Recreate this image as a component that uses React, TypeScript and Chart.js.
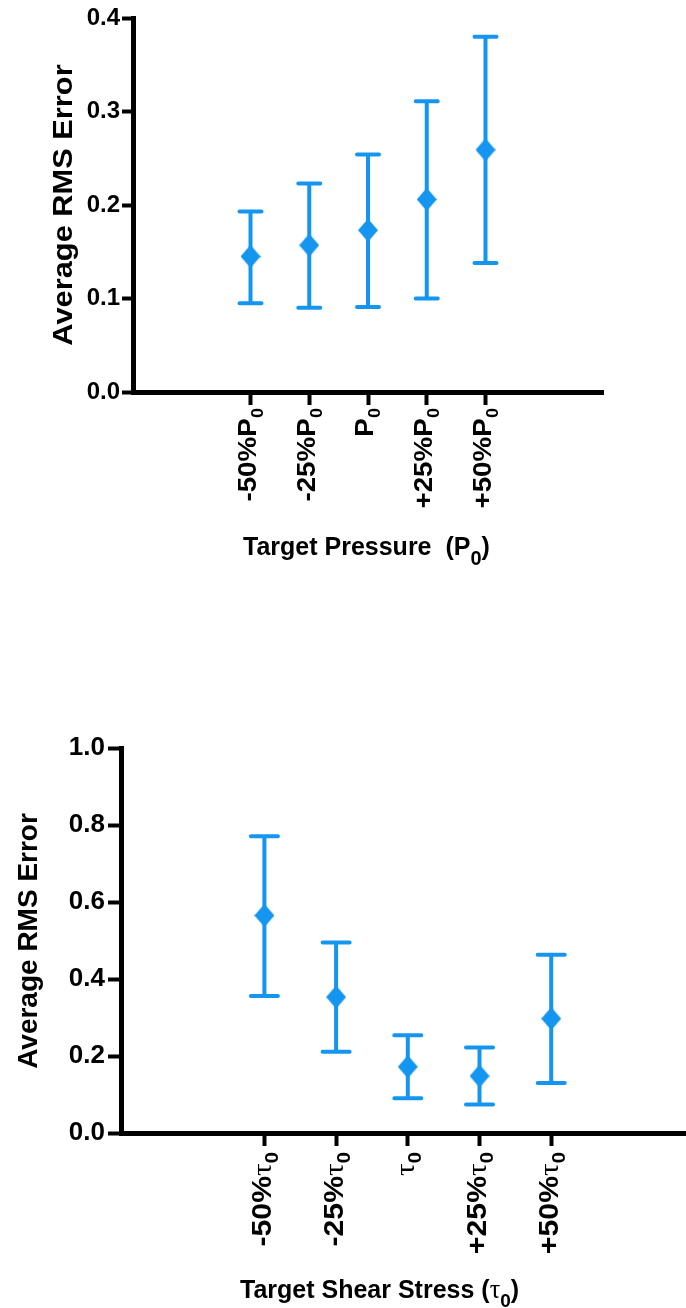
import React, { useEffect, useRef } from 'react';
import { Chart, registerables } from 'chart.js';

Chart.register(...registerables);

const BLUE = '#1496F0';
const SANS = '"Liberation Sans", Arial, sans-serif';
const SERIF = '"Liberation Serif", "Times New Roman", serif';

// ---------- data ----------
const categoryPositions = [2, 3, 4, 5, 6];
const subscriptText = '0';
const yAxisTitle = 'Average RMS Error';

const pressurePrefixes = ['-50%', '-25%', '', '+25%', '+50%'];
const pressureSymbol = 'P';
const pressureMean = [0.145, 0.157, 0.173, 0.206, 0.259];
const pressureUpper = [0.193, 0.223, 0.254, 0.311, 0.38];
const pressureLower = [0.095, 0.09, 0.091, 0.1, 0.138];
const pressureYTicks = [0, 0.1, 0.2, 0.3, 0.4];
const pressureXTitle = 'Target Pressure  (';

const shearPrefixes = ['-50%', '-25%', '', '+25%', '+50%'];
const shearSymbol = 'τ';
const shearMean = [0.565, 0.353, 0.172, 0.148, 0.297];
const shearUpper = [0.771, 0.495, 0.254, 0.222, 0.463];
const shearLower = [0.356, 0.211, 0.09, 0.074, 0.13];
const shearYTicks = [0, 0.2, 0.4, 0.6, 0.8, 1.0];
const shearXTitle = 'Target Shear Stress (';

type Seg = { text: string; font: string; dy?: number };

function measureSegs(ctx: CanvasRenderingContext2D, segs: Seg[]) {
  let w = 0;
  for (const s of segs) {
    ctx.font = s.font;
    w += ctx.measureText(s.text).width;
  }
  return w;
}

function drawSegs(ctx: CanvasRenderingContext2D, segs: Seg[], x0: number, baseline: number) {
  let x = x0;
  for (const s of segs) {
    ctx.font = s.font;
    ctx.fillText(s.text, x, baseline + (s.dy || 0));
    x += ctx.measureText(s.text).width;
  }
}

const bold = (size: number) => `bold ${size}px ${SANS}`;

const specs = [
  {
    key: 'pressure',
    height: 620,
    top: 0,
    area: { left: 133, top: 18, right: 603, bottom: 392 },
    xMax: 8,
    mean: pressureMean,
    upper: pressureUpper,
    lower: pressureLower,
    yTicks: pressureYTicks,
    prefixes: pressurePrefixes,
    symbol: pressureSymbol,
    symbolSerif: false,
    yTickFont: 24,
    yTickLen: 11,
    yTickPad: 2,
    xTickLen: 13,
    labelFont: 26,
    labelSubFont: 17,
    labelSubDy: 7,
    labelTop: 408,
    labelDx: -4,
    labelStretch: 1.07,
    yTitleFont: 28,
    yTitleStretch: 1.1,
    yTitleX: 64,
    yTitleY: 205,
    xTitle: pressureXTitle,
    xTitleFont: 25,
    xTitleSubFont: 20,
    xTitleSubDy: 10,
    xTitleX: 243,
    xTitleY: 555,
    capWidth: 22,
    barWidth: 4,
    diamondW: 20,
    diamondH: 23,
  },
  {
    key: 'shear',
    height: 668,
    top: 640,
    area: { left: 121, top: 108, right: 686, bottom: 493 },
    xMax: 7.88,
    mean: shearMean,
    upper: shearUpper,
    lower: shearLower,
    yTicks: shearYTicks,
    prefixes: shearPrefixes,
    symbol: shearSymbol,
    symbolSerif: true,
    yTickFont: 26,
    yTickLen: 13,
    yTickPad: 3,
    xTickLen: 13,
    labelFont: 27,
    labelSubFont: 18,
    labelSubDy: 7,
    labelTop: 512,
    labelDx: -3,
    labelStretch: 1.12,
    yTitleFont: 28,
    yTitleStretch: 1,
    yTitleX: 29,
    yTitleY: 301,
    xTitle: shearXTitle,
    xTitleFont: 25,
    xTitleSubFont: 19,
    xTitleSubDy: 9,
    xTitleX: 240,
    xTitleY: 658,
    capWidth: 27,
    barWidth: 4,
    diamondW: 20,
    diamondH: 23,
  },
];

type Spec = (typeof specs)[number];

function symbolFont(spec: Spec, size: number) {
  return spec.symbolSerif ? `${size * 1.05}px ${SERIF}` : bold(size);
}

function ChartPanel({ spec }: { spec: Spec }) {
  const ref = useRef<HTMLCanvasElement>(null);

  useEffect(() => {
    const canvas = ref.current;
    if (!canvas) return;

    const diamond = document.createElement('canvas');
    diamond.width = spec.diamondW;
    diamond.height = spec.diamondH;
    const dctx = diamond.getContext('2d')!;
    dctx.fillStyle = BLUE;
    dctx.beginPath();
    dctx.moveTo(spec.diamondW / 2, 0);
    dctx.lineTo(spec.diamondW, spec.diamondH / 2);
    dctx.lineTo(spec.diamondW / 2, spec.diamondH);
    dctx.lineTo(0, spec.diamondH / 2);
    dctx.closePath();
    dctx.fill();

    const decor = {
      id: 'decor_' + spec.key,
      beforeDatasetsDraw(chart: any) {
        const ctx: CanvasRenderingContext2D = chart.ctx;
        const xs = chart.scales.x;
        const ys = chart.scales.y;
        ctx.save();
        ctx.strokeStyle = BLUE;
        ctx.lineWidth = spec.barWidth;
        ctx.lineCap = 'round';
        categoryPositions.forEach((pos, i) => {
          const x = xs.getPixelForValue(pos);
          const yh = ys.getPixelForValue(spec.upper[i]);
          const yl = ys.getPixelForValue(spec.lower[i]);
          ctx.beginPath();
          ctx.moveTo(x, yh);
          ctx.lineTo(x, yl);
          ctx.moveTo(x - spec.capWidth / 2, yh);
          ctx.lineTo(x + spec.capWidth / 2, yh);
          ctx.moveTo(x - spec.capWidth / 2, yl);
          ctx.lineTo(x + spec.capWidth / 2, yl);
          ctx.stroke();
        });
        ctx.restore();
      },
      afterDraw(chart: any) {
        const ctx: CanvasRenderingContext2D = chart.ctx;
        const xs = chart.scales.x;
        ctx.save();
        ctx.fillStyle = '#000';
        ctx.textAlign = 'left';
        ctx.textBaseline = 'alphabetic';

        // rotated category labels
        const capH = 0.716 * spec.labelFont;
        categoryPositions.forEach((pos, i) => {
          const segs: Seg[] = [];
          if (spec.symbolSerif) {
            if (spec.prefixes[i]) segs.push({ text: spec.prefixes[i], font: bold(spec.labelFont) });
            segs.push({ text: spec.symbol, font: symbolFont(spec, spec.labelFont) });
          } else {
            segs.push({ text: spec.prefixes[i] + spec.symbol, font: bold(spec.labelFont) });
          }
          segs.push({ text: subscriptText, font: bold(spec.labelSubFont), dy: spec.labelSubDy });
          const x = xs.getPixelForValue(pos);
          ctx.save();
          ctx.translate(x + spec.labelDx, spec.labelTop);
          ctx.rotate(-Math.PI / 2);
          ctx.scale(spec.labelStretch, 1);
          const w = measureSegs(ctx, segs);
          drawSegs(ctx, segs, -w, capH / 2);
          ctx.restore();
        });

        // y title
        ctx.save();
        ctx.translate(spec.yTitleX, spec.yTitleY);
        ctx.rotate(-Math.PI / 2);
        ctx.scale(spec.yTitleStretch, 1);
        ctx.font = bold(spec.yTitleFont);
        ctx.textAlign = 'center';
        ctx.textBaseline = 'middle';
        ctx.fillText(yAxisTitle, 0, 0);
        ctx.restore();

        // x title
        const tsegs: Seg[] = [
          { text: spec.xTitle, font: bold(spec.xTitleFont) },
          { text: spec.symbol, font: symbolFont(spec, spec.xTitleFont) },
          { text: subscriptText, font: bold(spec.xTitleSubFont), dy: spec.xTitleSubDy },
          { text: ')', font: bold(spec.xTitleFont) },
        ];
        drawSegs(ctx, tsegs, spec.xTitleX, spec.xTitleY);
        ctx.restore();
      },
    };

    const yMax = spec.yTicks[spec.yTicks.length - 1];

    const chart = new Chart(canvas, {
      type: 'scatter',
      data: {
        datasets: [
          {
            data: categoryPositions.map((x, i) => ({ x, y: spec.mean[i] })),
            pointStyle: diamond as any,
            pointRadius: 10,
            pointHoverRadius: 10,
            backgroundColor: BLUE,
            borderColor: BLUE,
            showLine: false,
            clip: false,
          },
        ],
      },
      options: {
        responsive: false,
        animation: false,
        devicePixelRatio: 1,
        events: [],
        layout: {
          autoPadding: false,
          padding: {
            left: 0,
            top: spec.area.top,
            right: 686 - spec.area.right,
            bottom: 0,
          },
        },
        plugins: {
          legend: { display: false },
          tooltip: { enabled: false },
        },
        scales: {
          x: {
            type: 'linear',
            min: 0,
            max: spec.xMax,
            afterBuildTicks: (s: any) => {
              s.ticks = categoryPositions.map((v) => ({ value: v }));
            },
            afterFit: (s: any) => {
              s.height = spec.height - spec.area.bottom;
            },
            ticks: { display: false },
            grid: {
              display: true,
              drawOnChartArea: false,
              drawTicks: true,
              tickLength: spec.xTickLen,
              tickWidth: 4,
              tickColor: '#000',
            },
            border: { display: true, color: '#000', width: 5 },
          },
          y: {
            type: 'linear',
            min: 0,
            max: yMax,
            afterBuildTicks: (s: any) => {
              s.ticks = spec.yTicks.map((v) => ({ value: v }));
            },
            afterFit: (s: any) => {
              s.width = spec.area.left;
            },
            ticks: {
              color: '#000',
              padding: spec.yTickPad,
              font: { family: SANS, size: spec.yTickFont, weight: 'bold' },
              callback: (v: any) => Number(v).toFixed(1),
            },
            grid: {
              display: true,
              drawOnChartArea: false,
              drawTicks: true,
              tickLength: spec.yTickLen,
              tickWidth: 4,
              tickColor: '#000',
            },
            border: { display: true, color: '#000', width: 5 },
          },
        },
      } as any,
      plugins: [decor],
    });

    return () => chart.destroy();
  }, [spec]);

  return (
    <canvas
      ref={ref}
      width={686}
      height={spec.height}
      style={{ position: 'absolute', left: 0, top: spec.top, width: 686, height: spec.height }}
    />
  );
}

export default function App() {
  return (
    <div
      style={{
        position: 'absolute',
        left: 0,
        top: 0,
        width: 686,
        height: 1308,
        overflow: 'hidden',
        background: '#fff',
      }}
    >
      {specs.map((s) => (
        <ChartPanel key={s.key} spec={s} />
      ))}
    </div>
  );
}
